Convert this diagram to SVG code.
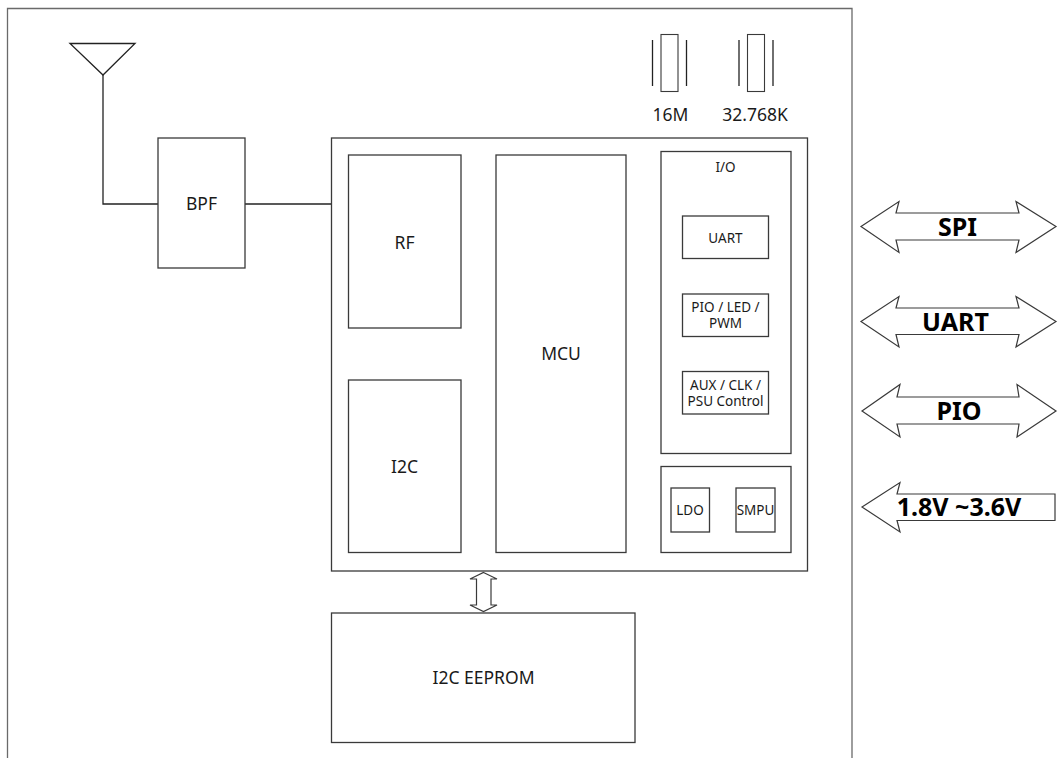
<svg xmlns="http://www.w3.org/2000/svg" width="1058" height="758" viewBox="0 0 1058 758">
<style>
  .bg { fill: #ffffff; }
  .frame { fill: none; stroke: #6a6a6a; stroke-width: 1.3; }
  .box { fill: #ffffff; stroke: #3a3a3a; stroke-width: 1.3; }
  .thin { fill: #ffffff; stroke: #3a3a3a; stroke-width: 1.1; }
  .wire { fill: none; stroke: #222222; stroke-width: 1.3; }
  .arrow { fill: #ffffff; stroke: #3a3a3a; stroke-width: 1.2; stroke-linejoin: miter; }
  .t { font-family: "Noto Sans", "Open Sans", "DejaVu Sans", sans-serif; fill: #1a1a1a; text-anchor: middle; dominant-baseline: central; }
  .m { font-size: 17.5px; }
  .s { font-size: 13.5px; }
  .b { font-size: 25px; font-weight: bold; fill: #000; }
</style>
<rect class="bg" x="0" y="0" width="1058" height="758"/>
<path class="frame" d="M7.5,758 V8.5 H852 V758"/>

<g id="connectors">
  <polyline class="wire" points="103,75 103,204 158,204"/>
  <line class="wire" x1="245" y1="204" x2="331" y2="204"/>
  <polygon id="i2c-bus" class="arrow" points="483.5,572.5 497,579 491,579 491,605 497,605 483.5,611.5 470,605 476.5,605 476.5,579 470,579"/>
</g>

<g id="antenna">
  <polygon class="wire" points="70,43.5 135,43.5 103,75"/>
</g>

<g id="bpf">
  <rect class="box" x="158" y="138" width="87" height="130"/>
  <text class="t m" x="201.5" y="203">BPF</text>
</g>

<g id="xtal-16m">
  <rect class="thin" x="661" y="34.5" width="17" height="57"/>
  <line class="wire" x1="652.5" y1="40" x2="652.5" y2="86" stroke-width="1.1"/>
  <line class="wire" x1="686.5" y1="40" x2="686.5" y2="86" stroke-width="1.1"/>
  <text class="t m" x="670.5" y="114">16M</text>
</g>

<g id="xtal-32k">
  <rect class="thin" x="747.5" y="34.5" width="17" height="57"/>
  <line class="wire" x1="739" y1="40" x2="739" y2="86" stroke-width="1.1"/>
  <line class="wire" x1="773" y1="40" x2="773" y2="86" stroke-width="1.1"/>
  <text class="t m" x="755" y="114">32.768K</text>
</g>

<g id="chip">
  <rect class="box" x="331.5" y="138" width="476" height="433"/>
</g>

<g id="rf">
  <rect class="box" x="348.5" y="155" width="112.5" height="173"/>
  <text class="t m" x="404.5" y="242">RF</text>
</g>

<g id="i2c">
  <rect class="box" x="348.5" y="380" width="112.5" height="172.5"/>
  <text class="t m" x="404.5" y="466">I2C</text>
</g>

<g id="mcu">
  <rect class="box" x="496" y="155" width="130" height="397.5"/>
  <text class="t m" x="561" y="353">MCU</text>
</g>

<g id="io">
  <rect class="box" x="661" y="151.5" width="130" height="302"/>
  <text class="t s" x="725.5" y="167">I/O</text>
</g>

<g id="io-uart">
  <rect class="box" x="682.5" y="216" width="86" height="42.5"/>
  <text class="t s" x="725.5" y="237.5">UART</text>
</g>

<g id="io-pio">
  <rect class="box" x="682.5" y="294" width="86" height="42.5"/>
  <text class="t s" x="725.5" y="307">PIO / LED /</text>
  <text class="t s" x="725.5" y="323">PWM</text>
</g>

<g id="io-aux">
  <rect class="box" x="682.5" y="371.5" width="86" height="42.5"/>
  <text class="t s" x="725.5" y="384.5">AUX / CLK /</text>
  <text class="t s" x="725.5" y="400.5">PSU Control</text>
</g>

<g id="power">
  <rect class="box" x="661" y="466.5" width="130" height="86"/>
</g>

<g id="ldo">
  <rect class="box" x="671" y="488" width="38.5" height="44"/>
  <text class="t s" x="690" y="510">LDO</text>
</g>

<g id="smpu">
  <rect class="box" x="736" y="488" width="39" height="44"/>
  <text class="t s" x="755.5" y="510">SMPU</text>
</g>

<g id="eeprom">
  <rect class="box" x="331.5" y="613" width="303.5" height="129.5"/>
  <text class="t m" x="483.5" y="677">I2C EEPROM</text>
</g>

<g id="port-spi">
  <polygon class="arrow" points="861,226.5 899,201.5 896,213 1019,213 1016,201.5 1056,226.5 1016,252.5 1019,240 896,240 899,252.5"/>
  <text class="t b" x="957.5" y="226">SPI</text>
</g>

<g id="port-uart">
  <polygon class="arrow" points="861,321.5 899,296.5 896,308 1019,308 1016,296.5 1056,321.5 1016,347 1019,334.5 896,334.5 899,347"/>
  <text class="t b" x="955.5" y="321">UART</text>
</g>

<g id="port-pio">
  <polygon class="arrow" points="862,411 900,384.5 897,397 1019,397 1017,384.5 1056,411 1017,437 1019,424 897,424 900,437"/>
  <text class="t b" x="959" y="410">PIO</text>
</g>

<g id="port-power">
  <polygon class="arrow" points="862,507 900,482.5 897,494 1055,494 1055,520.5 897,520.5 900,532"/>
  <text class="t b" x="959" y="506">1.8V ~3.6V</text>
</g>
</svg>
